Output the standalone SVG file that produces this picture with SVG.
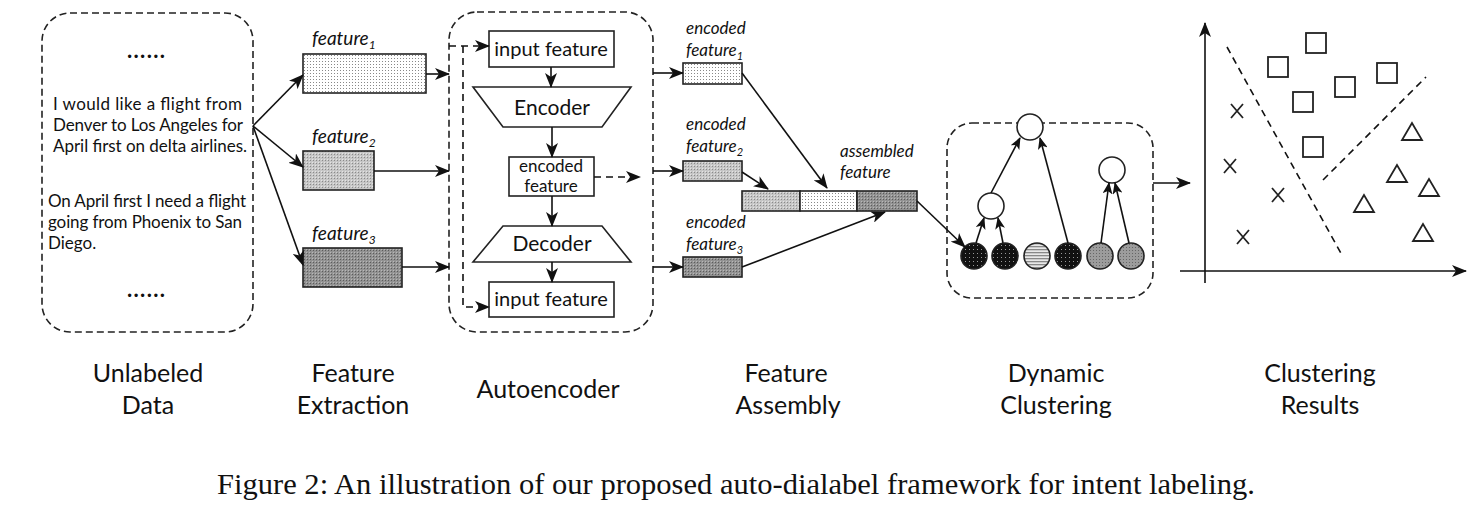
<svg xmlns="http://www.w3.org/2000/svg" width="1480" height="508" viewBox="0 0 1480 508">
<style>
.dash{fill:none;stroke:#222;stroke-width:1.6;stroke-dasharray:7,4}
.ln{fill:none;stroke:#111;stroke-width:1.6}
.lnd{fill:none;stroke:#111;stroke-width:1.6;stroke-dasharray:7,5}
.box{stroke:#222;stroke-width:1.6}
.t{font-family:Lato,"Open Sans","Liberation Sans",sans-serif;fill:#111}
.it{font-family:Lato,"Open Sans","Liberation Sans",sans-serif;font-style:italic;fill:#111}
.cap{font-family:"Liberation Serif","Times New Roman",serif;fill:#111}
.sym{fill:none;stroke:#222;stroke-width:1.8}
</style>
<defs>
<marker id="ah" markerWidth="15" markerHeight="12" refX="14" refY="6" orient="auto" markerUnits="userSpaceOnUse"><path d="M0,0 L15,6 L0,12 L4,6 z" fill="#111"/></marker>
<marker id="ahs" markerWidth="12" markerHeight="10" refX="11" refY="5" orient="auto" markerUnits="userSpaceOnUse"><path d="M0,0 L12,5 L0,10 L3,5 z" fill="#111"/></marker>
<pattern id="pW" width="3" height="3" patternUnits="userSpaceOnUse"><rect width="3" height="3" fill="#fff"/><rect x="1" y="1" width="1" height="1" fill="#888"/></pattern>
<pattern id="pL" width="3" height="3" patternUnits="userSpaceOnUse"><rect width="3" height="3" fill="#c6c6c6"/><rect x="1" y="1" width="1" height="1" fill="#8a8a8a"/><rect x="0" y="0" width="1" height="1" fill="#e4e4e4"/></pattern>
<pattern id="pD" width="3" height="3" patternUnits="userSpaceOnUse"><rect width="3" height="3" fill="#929292"/><rect x="1" y="1" width="1" height="1" fill="#5c5c5c"/><rect x="0" y="0" width="1" height="1" fill="#b8b8b8"/></pattern>
<pattern id="pB" width="4" height="4" patternUnits="userSpaceOnUse"><rect width="4" height="4" fill="#111"/><rect x="1" y="1" width="1" height="1" fill="#999"/></pattern>
<pattern id="pG" width="3" height="3" patternUnits="userSpaceOnUse"><rect width="3" height="3" fill="#9c9c9c"/><rect x="1" y="1" width="1" height="1" fill="#666"/></pattern>
<pattern id="pS" width="3" height="3" patternUnits="userSpaceOnUse"><rect width="3" height="3" fill="#e8e8e8"/><rect x="0" y="0" width="3" height="1.3" fill="#888"/></pattern>
</defs>

<g id="unlabeled-data">
<rect class="dash" x="42" y="13" width="211" height="319" rx="28"/>
<text class="t" x="146" y="58" font-size="22" font-weight="bold" text-anchor="middle" textLength="38" lengthAdjust="spacing">......</text>
<text class="t" font-size="17"><tspan x="53" y="110" textLength="189" lengthAdjust="spacing">I would like a flight from</tspan><tspan x="53" y="131" textLength="190" lengthAdjust="spacing">Denver to Los Angeles for</tspan><tspan x="53" y="152" textLength="194" lengthAdjust="spacing">April first on delta airlines.</tspan></text>
<text class="t" font-size="17"><tspan x="48" y="207" textLength="198" lengthAdjust="spacing">On April first I need a flight</tspan><tspan x="48" y="228" textLength="194" lengthAdjust="spacing">going from Phoenix to San</tspan><tspan x="48" y="249">Diego.</tspan></text>
<text class="t" x="146" y="297" font-size="22" font-weight="bold" text-anchor="middle" textLength="38" lengthAdjust="spacing">......</text>
</g>

<g id="feature1">
<rect class="box" x="303" y="54" width="123" height="39" fill="url(#pW)"/>
<text class="it" x="312" y="45" font-size="19">feature<tspan font-size="12" dy="4">1</tspan></text>
</g>
<g id="feature2">
<rect class="box" x="303" y="151" width="71" height="39" fill="url(#pL)"/>
<text class="it" x="312" y="143" font-size="19">feature<tspan font-size="12" dy="4">2</tspan></text>
</g>
<g id="feature3">
<rect class="box" x="303" y="248" width="99" height="39" fill="url(#pD)"/>
<text class="it" x="312" y="240" font-size="19">feature<tspan font-size="12" dy="4">3</tspan></text>
</g>

<g id="autoencoder">
<rect class="dash" x="449" y="12" width="204" height="320" rx="28"/>
<rect class="box" x="489" y="31" width="125" height="36" fill="#fff"/>
<text class="t" x="551" y="56" font-size="20" text-anchor="middle">input feature</text>
<polygon class="box" points="473,87 631,87 602,127 503,127" fill="#fff"/>
<text class="t" x="552" y="115" font-size="21" text-anchor="middle">Encoder</text>
<rect class="box" x="509" y="157" width="85" height="39" fill="#fff"/>
<text class="t" x="551" y="172" font-size="17" text-anchor="middle">encoded</text>
<text class="t" x="551" y="192" font-size="17" text-anchor="middle">feature</text>
<polygon class="box" points="503,226 602,226 631,262 473,262" fill="#fff"/>
<text class="t" x="552" y="251" font-size="21" text-anchor="middle">Decoder</text>
<rect class="box" x="489" y="282" width="125" height="35" fill="#fff"/>
<text class="t" x="551" y="306" font-size="20" text-anchor="middle">input feature</text>
</g>

<g id="encoded-feature1">
<rect class="box" x="683" y="63" width="59" height="21" fill="url(#pW)"/>
<text class="it" x="686" y="34" font-size="17">encoded</text>
<text class="it" x="686" y="56" font-size="17">feature<tspan font-size="11" dy="4">1</tspan></text>
</g>
<g id="encoded-feature2">
<rect class="box" x="683" y="161" width="59" height="20" fill="url(#pL)"/>
<text class="it" x="686" y="130" font-size="17">encoded</text>
<text class="it" x="686" y="152" font-size="17">feature<tspan font-size="11" dy="4">2</tspan></text>
</g>
<g id="encoded-feature3">
<rect class="box" x="683" y="257" width="59" height="20" fill="url(#pD)"/>
<text class="it" x="686" y="228" font-size="17">encoded</text>
<text class="it" x="686" y="250" font-size="17">feature<tspan font-size="11" dy="4">3</tspan></text>
</g>

<g id="assembled-feature">
<rect class="box" x="742" y="191" width="58" height="20" fill="url(#pL)"/>
<rect class="box" x="800" y="191" width="57" height="20" fill="url(#pW)"/>
<rect class="box" x="857" y="191" width="60" height="20" fill="url(#pD)"/>
<text class="it" x="840" y="157" font-size="17">assembled</text>
<text class="it" x="840" y="178" font-size="17">feature</text>
</g>

<g id="dynamic-clustering">
<rect class="dash" x="947" y="123" width="206" height="175" rx="25"/>
<circle class="box" cx="974" cy="256" r="13" fill="url(#pB)"/>
<circle class="box" cx="1005" cy="256" r="13" fill="url(#pB)"/>
<circle class="box" cx="1037" cy="256" r="13" fill="url(#pS)"/>
<circle class="box" cx="1068" cy="256" r="13" fill="url(#pB)"/>
<circle class="box" cx="1100" cy="256" r="13" fill="url(#pG)"/>
<circle class="box" cx="1131" cy="256" r="13" fill="url(#pG)"/>
<circle class="box" cx="991" cy="206" r="13" fill="#fff"/>
<circle class="box" cx="1030" cy="127" r="13" fill="#fff"/>
<circle class="box" cx="1112" cy="170" r="13" fill="#fff"/>
<g class="ln" marker-end="url(#ahs)">
<path d="M976,243 L984,218"/>
<path d="M1003,243 L998,218"/>
<path d="M991,193 L1020,138"/>
<path d="M1068,243 L1040,138"/>
<path d="M1101,243 L1109,183"/>
<path d="M1129,243 L1115,183"/>
</g>
</g>

<g id="clustering-results">
<path class="ln" d="M1205,283 V23" marker-end="url(#ah)"/>
<path class="ln" d="M1180,271 H1466" marker-end="url(#ah)"/>
<path class="lnd" d="M1227,47 L1343,257"/>
<path class="lnd" d="M1323,180 L1426,77"/>
<g class="sym">
<rect x="1306" y="33" width="20" height="20"/>
<rect x="1268" y="57" width="20" height="20"/>
<rect x="1335" y="77" width="20" height="20"/>
<rect x="1377" y="63" width="20" height="20"/>
<rect x="1293" y="92" width="20" height="20"/>
<rect x="1303" y="137" width="20" height="20"/>
<path d="M1231,104 L1243,118 M1243,104 L1231,118"/>
<path d="M1224,159 L1236,173 M1236,159 L1224,173"/>
<path d="M1272,188 L1284,202 M1284,188 L1272,202"/>
<path d="M1237,230 L1249,244 M1249,230 L1237,244"/>
<polygon points="1412,123 1402,140 1422,140"/>
<polygon points="1397,165 1387,182 1407,182"/>
<polygon points="1429,179 1419,196 1439,196"/>
<polygon points="1364,195 1354,212 1374,212"/>
<polygon points="1423,224 1413,241 1433,241"/>
</g>
</g>

<g id="connectors">
<g class="ln" marker-end="url(#ah)">
<path d="M253,126 L303,75"/>
<path d="M253,126 L303,167"/>
<path d="M253,126 L303,265"/>
<path d="M426,74 H449"/>
<path d="M374,171 H449"/>
<path d="M402,267 H449"/>
<path d="M551,67 V87"/>
<path d="M552,127 V157"/>
<path d="M552,196 V226"/>
<path d="M552,262 V282"/>
<path d="M653,73 H683"/>
<path d="M653,171 H683"/>
<path d="M653,267 H683"/>
<path d="M742,73 L827,188"/>
<path d="M742,172 L768,189"/>
<path d="M742,267 L885,212"/>
<path d="M917,201 L965,247"/>
<path d="M1153,183 H1190"/>
</g>
<g class="lnd" marker-end="url(#ah)">
<path d="M449,46 H489"/>
<path d="M463,46 V307 H489"/>
<path d="M594,177 H640"/>
</g>
</g>

<g id="stage-labels" class="t" font-size="25" text-anchor="middle">
<text x="148" y="382">Unlabeled</text>
<text x="148" y="414">Data</text>
<text x="353" y="382">Feature</text>
<text x="353" y="414">Extraction</text>
<text x="548" y="398">Autoencoder</text>
<text x="786" y="382">Feature</text>
<text x="788" y="414">Assembly</text>
<text x="1056" y="382">Dynamic</text>
<text x="1056" y="414">Clustering</text>
<text x="1320" y="382">Clustering</text>
<text x="1320" y="414">Results</text>
</g>

<text id="caption" class="cap" x="217" y="494" font-size="29" textLength="1038" lengthAdjust="spacingAndGlyphs">Figure 2: An illustration of our proposed auto-dialabel framework for intent labeling.</text>
</svg>
